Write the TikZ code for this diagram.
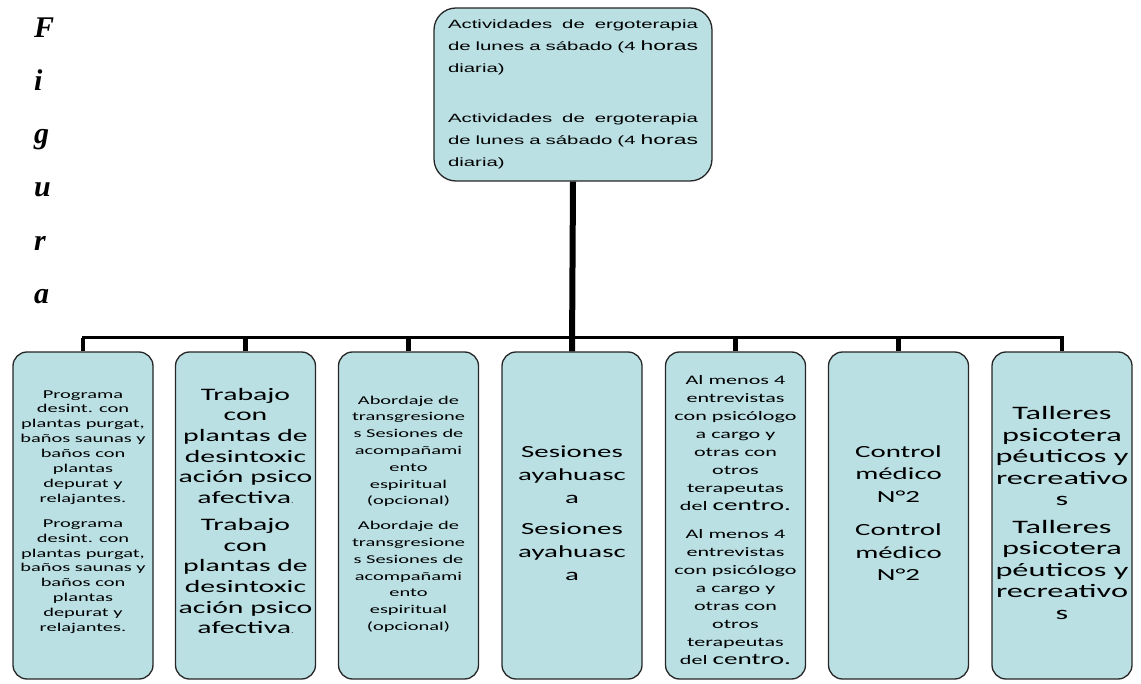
\documentclass[tikz,border=0pt]{standalone}
\usepackage{fontspec}
\newfontfamily\boxfont[FakeStretch=1.7]{Carlito}
\newfontfamily\topfont[FakeStretch=1.7]{Liberation Sans}
\newfontfamily\figfont{Liberation Serif}
\definecolor{boxfill}{RGB}{186,224,228}
\begin{document}
\begin{tikzpicture}[x=1pt,y=-1pt,
  card/.style={draw=black!85, line width=1.3pt, fill=boxfill, rounded corners=14pt,
    minimum width=140pt, minimum height=327pt, inner sep=0pt},
  headcard/.style={card, rounded corners=22pt, minimum width=278pt, minimum height=173pt},
  boxtext/.style={inner sep=0pt, align=center, text=black},
  trunk/.style={line width=6pt},
  bus/.style={line width=3pt, line join=miter},
  drop/.style={line width=4.5pt},
  figletter/.style={inner sep=0pt, anchor=base west, font=\figfont\bfseries\itshape\fontsize{30}{34}\selectfont}
]
\useasboundingbox (0,0) rectangle (1141,684);

% vertical "Figura" caption
\foreach \ch/\yy [count=\k] in {F/38, i/91, g/144, u/197, r/251, a/304}
  \node[figletter] (fig\k) at (34,\yy) {\ch};

% head box
\node[headcard] (top) at (573,94.5) {};
\node[boxtext, align=left, font=\topfont\fontsize{12}{22}\selectfont] (toptext) at (573,94) {%
  \makebox[250pt][s]{Actividades de ergoterapia}\\
  \makebox[250pt][s]{de lunes a sábado (4 {\fontsize{13.5}{22}\selectfont horas}}\\
  diaria)\\[28pt]
  \makebox[250pt][s]{Actividades de ergoterapia}\\
  \makebox[250pt][s]{de lunes a sábado (4 {\fontsize{13.5}{22}\selectfont horas}}\\
  diaria)};

% activity boxes
\foreach \xx [count=\k] in {83,245.5,408.5,572,735.5,898.5,1062}
  \node[card] (b\k) at (\xx,515.5) {};

\node[boxtext, font=\boxfont\fontsize{12}{14.9}\selectfont] (t1) at (b1.center |- 0,512) {%
  Programa\\desint. con\\plantas purgat,\\baños saunas y\\baños con\\plantas\\depurat y\\relajantes.\\[10pt]
  Programa\\desint. con\\plantas purgat,\\baños saunas y\\baños con\\plantas\\depurat y\\relajantes.};

\node[boxtext, font=\boxfont\fontsize{17.5}{20.7}\selectfont] (t2) at (b2.center |- 0,511) {%
  Trabajo\\con\\plantas de\\desintoxic\\ación psico\\afectiva{\fontsize{6}{6}\selectfont.}\\[6pt]
  Trabajo\\con\\plantas de\\desintoxic\\ación psico\\afectiva{\fontsize{6}{6}\selectfont.}};

\node[boxtext, font=\boxfont\fontsize{12}{16.8}\selectfont] (t3) at (b3.center |- 0,514) {%
  Abordaje de\\transgresione\\s Sesiones de\\acompañami\\ento\\espiritual\\(opcional)\\[8pt]
  Abordaje de\\transgresione\\s Sesiones de\\acompañami\\ento\\espiritual\\(opcional)};

\node[boxtext, font=\boxfont\fontsize{17}{23}\selectfont] (t4) at (b4.center |- 0,513) {%
  Sesiones\\ayahuasc\\a\\[8pt]
  Sesiones\\ayahuasc\\a};

\node[boxtext, font=\boxfont\fontsize{13}{18}\selectfont] (t5) at (b5.center |- 0,520) {%
  Al menos 4\\entrevistas\\con psicólogo\\a cargo y\\otras con\\otros\\terapeutas\\del {\fontsize{16}{18}\selectfont centro.}\\[10pt]
  Al menos 4\\entrevistas\\con psicólogo\\a cargo y\\otras con\\otros\\terapeutas\\del {\fontsize{16}{18}\selectfont centro.}};

\node[boxtext, font=\boxfont\fontsize{17}{22.5}\selectfont] (t6) at (b6.center |- 0,513) {%
  Control\\médico\\N°2\\[11pt]
  Control\\médico\\N°2};

\node[boxtext, font=\boxfont\fontsize{19}{21.5}\selectfont] (t7) at (b7.center |- 0,513) {%
  Talleres\\psicotera\\péuticos y\\recreativo\\s\\[6pt]
  Talleres\\psicotera\\péuticos y\\recreativo\\s};

% connectors
\coordinate (busy) at (572,338);
\draw[bus] (b1.north) -- (b1.north |- busy) -- (b7.north |- busy) -- (b7.north);
\foreach \k in {1,...,7}
  \draw[drop] (b\k.north |- busy) -- (b\k.north);
\draw[trunk] (top.south) -- (b4.north);
\end{tikzpicture}
\end{document}
